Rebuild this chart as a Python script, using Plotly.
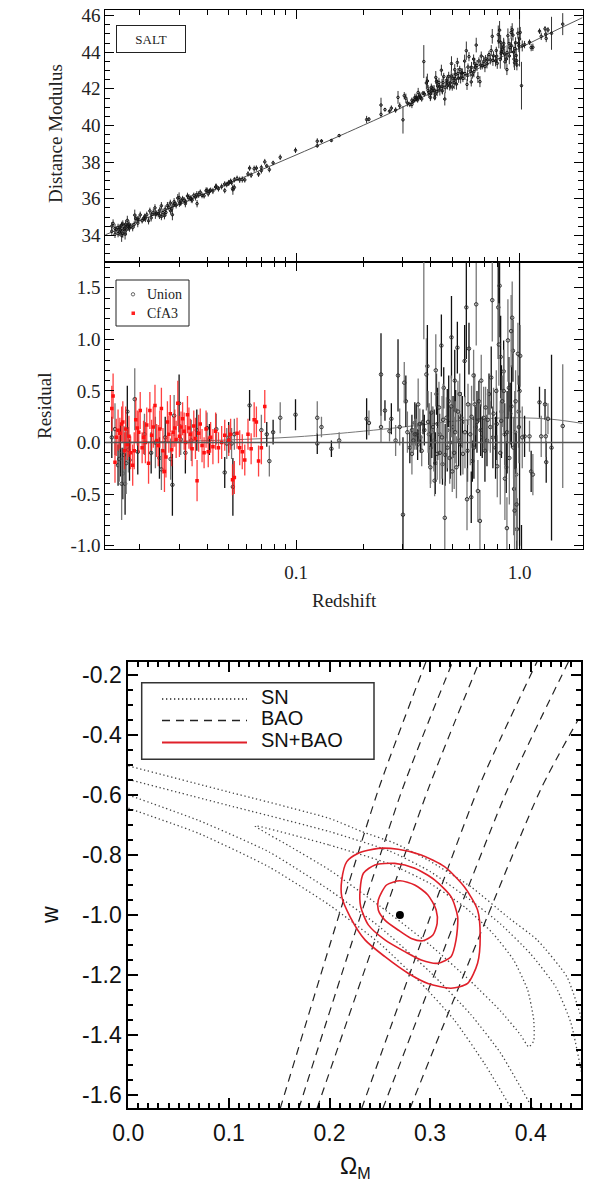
import numpy as np
import plotly.graph_objects as go

# ------------------------------------------------------------------ data
# best-fit Hubble line
model_z = [0.014, 0.02, 0.03, 0.05, 0.1, 0.2, 0.3, 0.5, 0.7, 1.0, 1.4, 1.91]
model_mu = [34.03, 34.80, 35.69, 36.83, 38.39, 40.01, 41.00, 42.38, 43.29, 44.22, 45.10, 45.88]
# alternative model curve in residual panel
alt_res = [0.0, 0.005, 0.012, 0.025, 0.055, 0.11, 0.15, 0.205, 0.232, 0.24, 0.225, 0.185]

union_z = [
    0.0150, 0.0155, 0.0160, 0.0162, 0.0164, 0.0166, 0.0168, 0.0170, 0.0172, 0.0174, 0.0176, 0.0178,
    0.0180, 0.0190, 0.0196, 0.0210, 0.0225, 0.0235, 0.0245, 0.0250, 0.0260, 0.0275, 0.0280, 0.0285,
    0.0300, 0.0305, 0.0320, 0.0340, 0.0360, 0.0400, 0.0410, 0.0440, 0.0480, 0.0490, 0.0500, 0.0515,
    0.0522, 0.0530, 0.0620, 0.0700, 0.0740, 0.0760, 0.0790, 0.0850, 0.0995,
    0.1245, 0.1245, 0.130, 0.144, 0.156, 0.207, 0.212, 0.240, 0.240, 0.250, 0.262, 0.267, 0.279,
    0.286, 0.291, 0.301, 0.305, 0.310, 0.315, 0.323, 0.330, 0.330, 0.335, 0.340, 0.340, 0.345,
    0.346, 0.350, 0.352, 0.355, 0.358, 0.360, 0.365, 0.370, 0.373, 0.375,
    0.383, 0.387, 0.390, 0.393, 0.399, 0.400, 0.403, 0.405, 0.410, 0.415, 0.417, 0.420, 0.422,
    0.425, 0.428, 0.430, 0.436, 0.439, 0.440, 0.447, 0.450, 0.452, 0.455, 0.458, 0.463, 0.465,
    0.471, 0.475, 0.476, 0.482, 0.487, 0.490, 0.495, 0.496, 0.500, 0.504, 0.510, 0.513, 0.515,
    0.518, 0.522, 0.527, 0.530, 0.534, 0.540, 0.545, 0.549, 0.555, 0.558, 0.568, 0.570, 0.578,
    0.582, 0.585, 0.588, 0.594, 0.602, 0.608, 0.610, 0.615, 0.623, 0.625, 0.630, 0.636, 0.640,
    0.645, 0.651, 0.658, 0.665, 0.670, 0.674, 0.681, 0.691, 0.700, 0.705, 0.715, 0.720, 0.730,
    0.740, 0.747, 0.755, 0.760, 0.765, 0.781, 0.787, 0.790, 0.795, 0.803, 0.808, 0.814, 0.820,
    0.823, 0.828, 0.830, 0.837, 0.849, 0.850, 0.858, 0.860, 0.872, 0.878, 0.880, 0.887, 0.896,
    0.900, 0.908, 0.917, 0.920, 0.927, 0.934, 0.940, 0.945, 0.950, 0.955, 0.960, 0.966, 0.970,
    0.973, 0.983, 0.990, 0.993, 1.000, 1.007, 1.020, 1.028, 1.053, 1.108, 1.127, 1.147, 1.228,
    1.250, 1.300, 1.310, 1.316, 1.340, 1.390, 1.560]
union_res = [
    0.05, 0.13, -0.22, -0.16, -0.08, -0.40, -0.30, -0.12, -0.40, -0.20, 0.30, -0.07,
    -0.17, 0.42, -0.09, 0.08, -0.10, 0.00, -0.15, -0.26, 0.05, -0.16, -0.41, 0.26,
    0.38, 0.03, -0.10, 0.02, 0.12, 0.14, 0.03, 0.13, -0.29, -0.01, 0.05, -0.01,
    -0.43, 0.08, 0.36, 0.12, 0.08, -0.18, 0.10, 0.24, 0.27,
    0.24, -0.01, 0.15, -0.06, 0.02, 0.23, 0.19, 0.66, 0.15, 0.31, 0.11, 0.23, 0.02,
    0.65, 0.15, -0.70, 0.58, 0.40, 0.10, -0.05, -0.11, 0.12, 0.02, 0.19, 0.08, 0.17,
    0.08, -0.02, 0.37, 0.10, 0.18, 0.05, -0.08, 0.20, 1.90, 0.12,
    0.66, 0.74, 0.20, 0.08, -0.24, -0.05, 0.29, 0.10, 0.15, 0.02, -0.37, -0.20, 0.70,
    0.47, -0.11, 0.18, 0.34, 0.08, -0.10, 0.94, 0.05, -0.21, 0.22, 0.53, -0.73, -0.12,
    0.24, 0.12, -0.05, 0.40, -0.15, 0.00, 0.35, 1.02, -0.28, 0.15, -0.10, 0.60, 0.10,
    0.31, -0.24, 0.92, 0.30, 0.02, 0.47, -0.02, 0.24, 0.20, -0.11, 0.79, 0.10, 1.31,
    -0.55, -0.08, 0.37, 0.91, 0.08, -0.53, 0.25, -0.18, 0.65, -0.05, 0.37, 0.15, 1.34,
    0.20, -0.47, 0.40, -0.76, 0.12, 0.60, 0.05, 0.24, -0.08, 0.34, 0.02, 0.22, 0.47,
    0.15, 0.63, 1.38, 0.05, 0.28, -0.05, 0.50, 0.18, -0.23, 1.31, 0.95, 1.52, -0.10,
    0.83, 0.21, 0.30, 0.40, 0.69, 0.50, 0.08, -0.35, -0.24, -0.83, 0.10, 0.99, 0.53,
    -0.15, 0.28, 1.08, 0.35, 1.21, 0.89, -0.05, -0.45, -0.66, 0.10, 0.40, -0.31, -0.60,
    -0.84, 0.86, 0.30, 0.15, 0.50, 0.84, -2.10, 0.05, 0.06, 0.06, -0.28, -0.31, 0.39,
    0.06, 0.37, 0.06, -0.19, 0.23, -0.05, 0.16]
union_err = [
    0.20, 0.25, 0.20, 0.22, 0.25, 0.35, 0.25, 0.28, 0.30, 0.30, 0.25, 0.22,
    0.20, 0.30, 0.22, 0.20, 0.20, 0.25, 0.20, 0.20, 0.20, 0.20, 0.30, 0.20,
    0.28, 0.15, 0.20, 0.20, 0.20, 0.15, 0.15, 0.15, 0.15, 0.15, 0.15, 0.15,
    0.28, 0.15, 0.15, 0.15, 0.12, 0.15, 0.12, 0.15, 0.15,
    0.16, 0.10, 0.10, 0.08, 0.08, 0.20, 0.12, 0.40, 0.15, 0.10, 0.10, 0.15, 0.15,
    0.35, 0.18, 0.75, 0.20, 0.25, 0.20, 0.15, 0.20, 0.15, 0.12, 0.20, 0.15, 0.20,
    0.15, 0.15, 0.25, 0.10, 0.15, 0.15, 0.15, 0.12, 0.90, 0.15,
    0.35, 0.40, 0.30, 0.30, 0.20, 0.35, 0.20, 0.25, 0.20, 0.30, 0.15, 0.30, 0.35,
    0.20, 0.25, 0.35, 0.25, 0.20, 0.30, 0.30, 0.40, 0.20, 0.35, 0.20, 0.35, 0.30,
    0.20, 0.40, 0.20, 0.25, 0.25, 0.35, 0.30, 0.40, 0.20, 0.30, 0.35, 0.30, 0.30,
    0.20, 0.30, 0.25, 0.30, 0.25, 0.20, 0.30, 0.25, 0.25, 0.20, 0.35, 0.35, 0.50,
    0.30, 0.30, 0.20, 0.25, 0.30, 0.25, 0.30, 0.20, 0.25, 0.30, 0.30, 0.20, 0.40,
    0.30, 0.30, 0.20, 0.30, 0.25, 0.25, 0.20, 0.30, 0.30, 0.20, 0.25, 0.30, 0.20,
    0.25, 0.30, 0.40, 0.30, 0.25, 0.30, 0.20, 0.35, 0.30, 0.50, 0.40, 0.50, 0.50,
    0.40, 0.30, 0.45, 0.25, 0.30, 0.40, 0.30, 0.40, 0.25, 0.30, 0.40, 0.40, 0.30,
    0.45, 0.30, 0.35, 0.40, 0.35, 0.30, 0.30, 0.45, 0.40, 0.40, 0.30, 0.40, 0.35,
    0.30, 0.30, 0.35, 0.35, 1.50, 0.30, 1.30, 0.30, 0.20, 0.15, 0.20, 0.20, 0.15,
    0.20, 0.15, 0.20, 0.20, 0.15, 0.90, 0.60]

cfa3_z = [
    0.0150, 0.0152, 0.0155, 0.0157, 0.0160, 0.0163, 0.0166, 0.0168, 0.0171, 0.0173, 0.0176, 0.0179,
    0.0182, 0.0186, 0.0189, 0.0192, 0.0195, 0.0198, 0.0201, 0.0205, 0.0208, 0.0212, 0.0215, 0.0219,
    0.0222, 0.0226, 0.0230, 0.0234, 0.0238, 0.0242, 0.0246, 0.0250, 0.0254, 0.0258, 0.0262, 0.0266,
    0.0270, 0.0274, 0.0278, 0.0282, 0.0287, 0.0291, 0.0296, 0.0301, 0.0306, 0.0311, 0.0316, 0.0321,
    0.0327, 0.0332, 0.0337, 0.0343, 0.0349, 0.0355, 0.0361, 0.0367, 0.0373, 0.0380, 0.0388, 0.0396,
    0.0405, 0.0415, 0.0425, 0.0437, 0.0450, 0.0465, 0.0480, 0.0500, 0.0510, 0.0520, 0.0530, 0.0545,
    0.0560, 0.0575, 0.0590, 0.0610, 0.0630, 0.0650, 0.0665, 0.0680, 0.0700, 0.0725]
cfa3_res = [
    0.33, 0.45, -0.19, 0.05, 0.12, 0.09, 0.18, 0.20, -0.08, 0.13, -0.02, 0.06,
    -0.10, -0.22, -0.08, 0.22, 0.14, 0.10, 0.31, -0.05, 0.05, 0.00, 0.17, -0.20,
    0.31, 0.07, 0.15, 0.36, 0.02, -0.03, 0.13, 0.33, -0.08, -0.28, -0.14, 0.20,
    0.08, 0.28, -0.07, 0.10, 0.14, 0.03, 0.38, 0.06, 0.15, 0.23, 0.11, 0.00,
    0.27, 0.14, 0.08, -0.06, 0.16, 0.04, -0.37, 0.09, 0.18, -0.03, -0.10, 0.13,
    -0.09, 0.05, -0.04, 0.11, -0.05, 0.00, 0.07, 0.02, 0.08, -0.36, -0.34, 0.09,
    -0.05, -0.09, -0.17, 0.08, -0.06, 0.22, 0.20, -0.18, -0.05, 0.35]
cfa3_err = [
    0.22, 0.22, 0.20, 0.18, 0.20, 0.15, 0.17, 0.20, 0.18, 0.22, 0.15, 0.20,
    0.16, 0.20, 0.18, 0.22, 0.17, 0.20, 0.18, 0.15, 0.16, 0.20, 0.17, 0.20,
    0.18, 0.15, 0.20, 0.20, 0.16, 0.20, 0.18, 0.20, 0.22, 0.20, 0.20, 0.20,
    0.18, 0.18, 0.16, 0.15, 0.18, 0.18, 0.22, 0.20, 0.15, 0.16, 0.18, 0.17,
    0.18, 0.20, 0.15, 0.17, 0.15, 0.20, 0.20, 0.18, 0.15, 0.16, 0.15, 0.18,
    0.15, 0.15, 0.17, 0.18, 0.15, 0.16, 0.15, 0.15, 0.15, 0.15, 0.16, 0.15,
    0.17, 0.17, 0.15, 0.15, 0.15, 0.17, 0.15, 0.15, 0.16, 0.16]

# tick labels
mu_ticks = [34, 36, 38, 40, 42, 44, 46]
res_ticks = [-1.0, -0.5, 0.0, 0.5, 1.0, 1.5]
z_major_ticks = [0.1, 1.0]
z_minor_ticks = [0.02, 0.03, 0.04, 0.05, 0.06, 0.07, 0.08, 0.09,
                 0.2, 0.3, 0.4, 0.5, 0.6, 0.7, 0.8, 0.9]
om_ticks = [0.0, 0.1, 0.2, 0.3, 0.4]
w_ticks = [-1.6, -1.4, -1.2, -1.0, -0.8, -0.6, -0.4, -0.2]

# SN contours (Omega_M, w)
sn1_om = [0.126, 0.2, 0.26, 0.30, 0.335, 0.362, 0.383, 0.397, 0.403, 0.403, 0.398,
          0.39, 0.37, 0.34, 0.30, 0.25, 0.2, 0.16, 0.126]
sn1_w = [-0.703, -0.767, -0.83, -0.895, -0.975, -1.06, -1.15, -1.25, -1.35, -1.42, -1.44,
         -1.40, -1.32, -1.22, -1.10, -0.97, -0.85, -0.77, -0.703]
sn2u_om = [0.0, 0.1, 0.2, 0.26, 0.30, 0.34, 0.37, 0.40, 0.425, 0.44, 0.452]
sn2u_w = [-0.548, -0.635, -0.722, -0.787, -0.855, -0.95, -1.03, -1.13, -1.24, -1.36, -1.55]
sn2l_om = [0.0, 0.07, 0.14, 0.2, 0.25, 0.30, 0.34, 0.37, 0.40, 0.405]
sn2l_w = [-0.60, -0.685, -0.79, -0.917, -1.04, -1.19, -1.33, -1.46, -1.633, -1.66]
sn3u_om = [0.0, 0.1, 0.2, 0.2322, 0.265, 0.298, 0.3406, 0.3768, 0.4064, 0.436, 0.452]
sn3u_w = [-0.503, -0.59, -0.678, -0.722, -0.761, -0.817, -0.906, -1.006, -1.083, -1.206, -1.36]
sn3l_om = [0.0, 0.07, 0.14, 0.2, 0.25, 0.2912, 0.324, 0.3538, 0.3785, 0.382]
sn3l_w = [-0.644, -0.728, -0.84, -0.967, -1.095, -1.228, -1.35, -1.494, -1.633, -1.66]

# BAO contour edges
bao_w = [-1.645, -0.583, -0.155]
bao3l_om = [0.151, 0.2485, 0.296]
bao2l_om = [0.1695, 0.2722, 0.3225]
bao1l_om = [0.1876, 0.2978, 0.349]
bao1r_om = [0.232, 0.3472, 0.4064]
bao2r_om = [0.253, 0.3767, 0.4377]
bao3r_om = [0.280, 0.4097, 0.447]
bao3r_w = [-1.645, -0.583, -0.35]

# SN+BAO contours
c1_om = [0.2485, 0.2567, 0.270, 0.2847, 0.2978, 0.306, 0.307, 0.3028, 0.2929, 0.2813,
         0.2682, 0.2551, 0.2485, 0.2485]
c1_w = [-0.95, -0.90, -0.886, -0.90, -0.933, -0.983, -1.028, -1.067, -1.086, -1.078,
        -1.05, -1.017, -0.983, -0.95]
c2_om = [0.2304, 0.2337, 0.2452, 0.2649, 0.2847, 0.3044, 0.3208, 0.3274, 0.3258, 0.3208,
         0.3077, 0.2912, 0.2748, 0.2551, 0.2386, 0.231, 0.2304]
c2_w = [-0.917, -0.861, -0.833, -0.828, -0.844, -0.883, -0.939, -1.006, -1.083, -1.139,
        -1.161, -1.15, -1.122, -1.083, -1.033, -0.972, -0.917]
c3_om = [0.2122, 0.2172, 0.2287, 0.2485, 0.2682, 0.2912, 0.3143, 0.334, 0.3472, 0.3498,
         0.3472, 0.3373, 0.3208, 0.2978, 0.2781, 0.2551, 0.2353, 0.2205, 0.2122, 0.2122]
c3_w = [-0.883, -0.822, -0.794, -0.778, -0.781, -0.80, -0.839, -0.906, -0.983, -1.072,
        -1.161, -1.228, -1.244, -1.228, -1.194, -1.139, -1.083, -1.006, -0.939, -0.883]
best_om = [0.27]
best_w = [-1.0]

# ------------------------------------------------------------------ figure
# the page body has an 8px default margin: size the figure so it fits the window
OFF = 8
W, H = 600 - 2 * OFF, 1193 - 2 * OFF
SERIF = "Liberation Serif"
SANS = "Liberation Sans"

def fx(px):
    return (px - OFF) / W

def fy(py):
    return min(1.0, 1 - (py - OFF) / H)

lz = np.log10(model_z)
mu_line = lambda z: np.interp(np.log10(z), lz, model_mu)

union_z_a = np.array(union_z)
union_res_a = np.array(union_res)
union_err_a = np.array(union_err)
cfa3_z_a = np.array(cfa3_z)
cfa3_res_a = np.array(cfa3_res)
cfa3_err_a = np.array(cfa3_err)

fig = go.Figure()

# ---- top panel
fig.add_trace(go.Scatter(x=model_z, y=model_mu, mode="lines", xaxis="x", yaxis="y",
                         line=dict(color="#555", width=1, shape="spline"), showlegend=False))
for zz, rr, ee in [(union_z_a, union_res_a, union_err_a), (cfa3_z_a, cfa3_res_a, cfa3_err_a)]:
    fig.add_trace(go.Scatter(
        x=zz, y=mu_line(zz) + rr, mode="markers", xaxis="x", yaxis="y", showlegend=False,
        marker=dict(symbol="circle-open", size=2.5, color="#111", line=dict(width=1)),
        error_y=dict(type="data", array=ee, color="#333", thickness=1, width=0)))

# ---- middle panel
fig.add_trace(go.Scatter(x=model_z, y=alt_res, mode="lines", xaxis="x2", yaxis="y2",
                         line=dict(color="#777", width=1, shape="spline"), showlegend=False))
idx = np.arange(len(union_z))
for k, col in enumerate(["#111", "#777"]):
    sel = idx % 2 == k
    fig.add_trace(go.Scatter(
        x=union_z_a[sel], y=union_res_a[sel], mode="markers", xaxis="x2", yaxis="y2",
        name="Union", showlegend=False,
        marker=dict(symbol="circle-open", size=3.5, color="#333", line=dict(width=1)),
        error_y=dict(type="data", array=union_err_a[sel], color=col, thickness=1.3, width=0)))
fig.add_trace(go.Scatter(
    x=cfa3_z_a, y=cfa3_res_a, mode="markers", xaxis="x2", yaxis="y2",
    name="CfA3", showlegend=False,
    marker=dict(symbol="square", size=3.5, color="#ff1010"),
    error_y=dict(type="data", array=cfa3_err_a, color="rgba(255,30,30,0.85)", thickness=1.3, width=0)))

# ---- bottom panel
dot_style = dict(color="#444", width=1.3, dash="1.3px,2.7px")
dash_style = dict(color="#222", width=1.2, dash="8px,6px")
red_style = dict(color="#e0202a", width=1.6)

sn_sets = [(sn1_om, sn1_w), (sn2u_om, sn2u_w), (sn2l_om, sn2l_w), (sn3u_om, sn3u_w), (sn3l_om, sn3l_w)]
for xo, yw in sn_sets:
    fig.add_trace(go.Scatter(x=xo, y=yw, mode="lines", xaxis="x3", yaxis="y3", name="SN",
                             line=dict(**dot_style, shape="spline", smoothing=0.5), showlegend=False))
bao_sets = [(bao3l_om, bao_w), (bao2l_om, bao_w), (bao1l_om, bao_w),
            (bao1r_om, bao_w), (bao2r_om, bao_w), (bao3r_om, bao3r_w)]
for xo, yw in bao_sets:
    fig.add_trace(go.Scatter(x=xo, y=yw, mode="lines", xaxis="x3", yaxis="y3", name="BAO",
                             line=dict(**dash_style, shape="spline", smoothing=0.6), showlegend=False))
for xo, yw in [(c1_om, c1_w), (c2_om, c2_w), (c3_om, c3_w)]:
    fig.add_trace(go.Scatter(x=xo, y=yw, mode="lines", xaxis="x3", yaxis="y3", name="SN+BAO",
                             line=dict(**red_style, shape="spline", smoothing=0.7), showlegend=False))
fig.add_trace(go.Scatter(x=best_om, y=best_w, mode="markers", xaxis="x3", yaxis="y3",
                         marker=dict(color="black", size=8), showlegend=False))

# ------------------------------------------------------------------ axes
top_x_dom = [fx(105.3), fx(582.6)]
ax_common = dict(showline=True, linecolor="black", linewidth=1, mirror="allticks",
                 ticks="inside", ticklen=9, tickcolor="black", tickwidth=1,
                 showgrid=False, zeroline=False, automargin=False, ticklabeloverflow="allow")
xlog = dict(type="log", range=[-1.853, 0.282], domain=top_x_dom,
            tickvals=z_major_ticks, ticktext=["0.1", "1.0"],
            minor=dict(ticks="inside", ticklen=5, tickvals=z_minor_ticks, tickcolor="black", showgrid=False),
            tickfont=dict(family=SERIF, size=19, color="#222"), **ax_common)

fig.update_layout(
    width=W, height=H, margin=dict(l=0, r=0, t=0, b=0, pad=0, autoexpand=False),
    paper_bgcolor="white", plot_bgcolor="white", showlegend=False,
    xaxis=dict(anchor="y", showticklabels=False, **xlog),
    yaxis=dict(anchor="x", domain=[fy(262), fy(9.5)], range=[32.55, 46.33],
               tickvals=mu_ticks, ticktext=[str(v) for v in mu_ticks],
               minor=dict(ticks="inside", ticklen=5, dtick=0.5, tickcolor="black", showgrid=False),
               tickfont=dict(family=SERIF, size=19, color="#222"), **ax_common),
    xaxis2=dict(anchor="y2", ticklabelstandoff=6, **xlog),
    yaxis2=dict(anchor="x2", domain=[fy(549.3), fy(262)], range=[-1.035, 1.75],
                tickvals=res_ticks, ticktext=["%.1f" % v for v in res_ticks],
                minor=dict(ticks="inside", ticklen=5, dtick=0.1, tick0=0, tickcolor="black", showgrid=False),
                tickfont=dict(family=SERIF, size=19, color="#222"), **ax_common),
    xaxis3=dict(anchor="y3", domain=[fx(128.3), fx(581)], range=[0, 0.45],
                tickvals=om_ticks, ticktext=["%.1f" % v for v in om_ticks],
                showline=True, linecolor="black", linewidth=2, mirror="allticks",
                ticks="inside", ticklen=10, tickwidth=2, tickcolor="black",
                minor=dict(ticks="inside", ticklen=5, dtick=0.01, tick0=0, tickcolor="black", tickwidth=1.5, showgrid=False),
                showgrid=False, zeroline=False, ticklabelstandoff=3, automargin=False,
                tickfont=dict(family=SANS, size=23, color="#111")),
    yaxis3=dict(anchor="x3", domain=[fy(1108), fy(662)], range=[-1.6433, -0.1567],
                tickvals=w_ticks, ticktext=["%.1f" % v for v in w_ticks],
                showline=True, linecolor="black", linewidth=2, mirror="allticks",
                ticks="inside", ticklen=10, tickwidth=2, tickcolor="black",
                minor=dict(ticks="inside", ticklen=5, dtick=0.05, tick0=0, tickcolor="black", tickwidth=1.5, showgrid=False),
                showgrid=False, zeroline=False, automargin=False,
                tickfont=dict(family=SANS, size=23, color="#111")),
)

# zero line in residual panel
fig.add_shape(type="line", xref="x2 domain", yref="y2", x0=0, x1=1, y0=0, y1=0,
              line=dict(color="#555", width=1.5))

# ---- legend boxes drawn in page pixels
def prect(x0, y0, x1, y1, **kw):
    fig.add_shape(type="rect", xref="paper", yref="paper",
                  x0=fx(x0), x1=fx(x1), y0=fy(y1), y1=fy(y0), **kw)

def pline(x0, x1, y, line):
    fig.add_shape(type="line", xref="paper", yref="paper",
                  x0=fx(x0), x1=fx(x1), y0=fy(y), y1=fy(y), line=line)

# middle-panel legend
prect(116, 280, 189, 326, line=dict(color="#222", width=1))
fig.add_shape(type="circle", xref="paper", yref="paper",
              x0=fx(131.3), x1=fx(134.7), y0=fy(296), y1=fy(292.6),
              line=dict(color="#666", width=1))
prect(131.5, 311.5, 135, 315, line=dict(width=0), fillcolor="#ff2020")

# bottom-panel legend
prect(141.7, 682.7, 374, 759.3, line=dict(color="#333", width=1.5))
pline(162, 247, 699, dict(color="#222", width=1.4, dash="1.3px,2.7px"))
pline(162, 247, 720.5, dict(color="#222", width=1.4, dash="8px,6px"))
pline(162, 247, 742.5, dict(color="#e0202a", width=1.8))

ann = [
    dict(text="SALT", x=fx(116), y=fy(25), xanchor="left", yanchor="top",
         font=dict(family=SERIF, size=13, color="#222"), bordercolor="#222", borderwidth=1,
         width=68, height=26, borderpad=0, bgcolor="white"),
    dict(text="Union", x=fx(145), y=fy(294.5), xanchor="left",
         font=dict(family=SERIF, size=14, color="#222")),
    dict(text="CfA3", x=fx(145), y=fy(313.5), xanchor="left",
         font=dict(family=SERIF, size=14, color="#222")),
    dict(text="SN", x=fx(259), y=fy(697), xanchor="left",
         font=dict(family=SANS, size=20, color="#111")),
    dict(text="BAO", x=fx(259), y=fy(718), xanchor="left",
         font=dict(family=SANS, size=20, color="#111")),
    dict(text="SN+BAO", x=fx(259), y=fy(740), xanchor="left",
         font=dict(family=SANS, size=20, color="#111")),
    dict(text="Distance Modulus", x=fx(55), y=fy(134), textangle=-90,
         font=dict(family=SERIF, size=19, color="#222")),
    dict(text="Residual", x=fx(44), y=fy(406), textangle=-90,
         font=dict(family=SERIF, size=19, color="#222")),
    dict(text="Redshift", x=fx(344), y=fy(600),
         font=dict(family=SERIF, size=19, color="#222")),
    dict(text="w", x=fx(50), y=fy(915), textangle=-90,
         font=dict(family=SANS, size=23, color="#111")),
    dict(text="Ω<sub>M</sub>", x=fx(355), y=fy(1167),
         font=dict(family=SANS, size=23, color="#111")),
]
for a in ann:
    a.setdefault("xref", "paper")
    a.setdefault("yref", "paper")
    a.setdefault("xanchor", "center")
    a.setdefault("yanchor", "middle")
    a.setdefault("showarrow", False)
    fig.add_annotation(**a)

fig.write_html("out.html")
